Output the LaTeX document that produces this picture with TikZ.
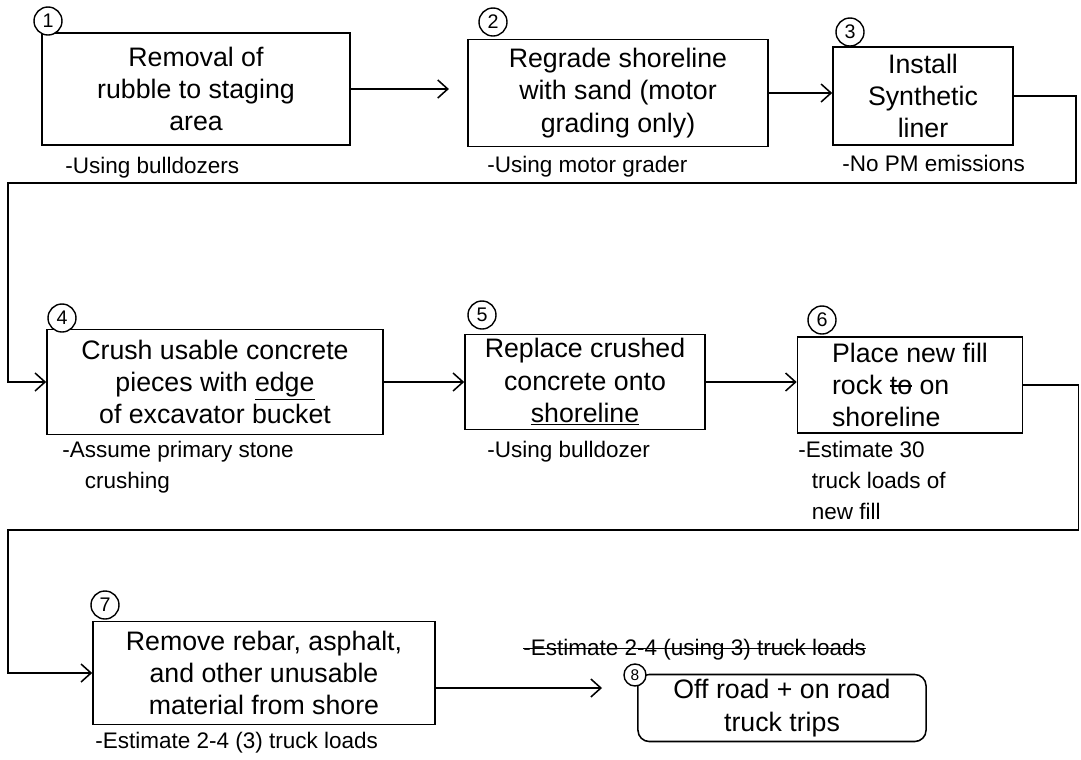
\documentclass[tikz,border=0pt]{standalone}
\usepackage{fontspec}
\setmainfont{Liberation Sans}
\usetikzlibrary{arrows.meta,calc}

% texte barre
\newcommand{\barre}[1]{\setbox0\hbox{#1}\rlap{\rule[0.3em]{\wd0}{0.9pt}}\box0\relax}

\begin{document}
\begin{tikzpicture}[x=0.025cm, y=-0.025cm,
    % Styles des etapes
    etape/.style={rectangle, draw=black, line width=1.1pt, align=center, inner sep=2pt,
                  font=\fontsize{19}{23}\selectfont},
    numero/.style={circle, draw=black, fill=white, line width=1pt, inner sep=0pt,
                   minimum size=0.7cm, font=\fontsize{14}{14}\selectfont},
    note/.style={anchor=west, align=left, inner sep=0pt, font=\fontsize{16}{22}\selectfont},
    % Style des fleches
    fleche/.style={-{Straight Barb[length=2.5mm, width=4.5mm]}, line width=1.1pt},
]
\useasboundingbox (0,0) rectangle (1081,759);

% ==========================================
% RANGEE 1
% ==========================================
\node[etape, minimum width=7.7cm, minimum height=2.8cm] (b1) at (196,89)
    {Removal of\\rubble to staging\\area};
\node[etape, minimum width=7.5cm, minimum height=2.675cm] (b2) at (618,93)
    {Regrade shoreline\\with sand (motor\\grading only)};
\node[etape, minimum width=4.5cm, minimum height=2.45cm] (b3) at (923,96)
    {Install\\Synthetic\\liner};

\node[numero] (n1) at (48,21) {1};
\node[numero] (n2) at (493,22) {2};
\node[numero] (n3) at (850,32) {3};

\node[note] (c1) at (65,168) {-Using bulldozers};
\node[note] (c2) at (487,167) {-Using motor grader};
\node[note] (c3) at (842,163) {-No PM emissions};

\draw[fleche, shorten >=13pt] (b1.east) -- (b1.east -| b2.west);
\draw[fleche] (b2.east) -- (b2.east -| b3.west);

% ==========================================
% RANGEE 2
% ==========================================
\node[etape, minimum width=8.4cm, minimum height=2.625cm] (b4) at (215,382)
    {Crush usable concrete\\pieces with \underline{edge}\\of excavator bucket};
\node[etape, minimum width=6cm, minimum height=2.375cm] (b5) at (585,382)
    {Replace crushed\\concrete onto\\\underline{shoreline}};
\node[etape, align=left, minimum width=5.625cm, minimum height=2.4cm] (b6) at (910,385)
    {Place new fill\\rock \barre{to} on\\shoreline};

\node[numero] (n4) at (62,318) {4};
\node[numero] (n5) at (482,315) {5};
\node[numero] (n6) at (822,320) {6};

\node[note, anchor=north west] (c4) at (62,441) {-Assume primary stone\\\hspace{1em}crushing};
\node[note] (c5) at (487,452) {-Using bulldozer};
\node[note, anchor=north west] (c6) at (798,441) {-Estimate 30\\\hspace{0.6em}truck loads of\\\hspace{0.6em}new fill};

\coordinate (coude1) at (8,183);
\draw[fleche] (b3.east) -- ++(62,0) |- (coude1) |- (b4.west);
\draw[fleche] (b4.east) -- (b5.west);
\draw[fleche] (b5.east) -- (b5.east -| b6.west);

% ==========================================
% RANGEE 3
% ==========================================
\node[etape, minimum width=8.55cm, minimum height=2.575cm] (b7) at (264,673)
    {Remove rebar, asphalt,\\and other unusable\\material from shore};
\node[etape, rounded corners=8pt, minimum width=7.2cm, minimum height=1.675cm] (b8) at (782,708)
    {Off road + on road\\truck trips};

\node[numero] (n7) at (105,605) {7};
\node[numero, minimum size=0.55cm, font=\fontsize{11}{11}\selectfont] (n8) at (635,675) {8};

\node[note] (c7) at (95,743) {-Estimate 2-4 (3) truck loads};
\node[note] (c8) at (523,650) {\barre{-Estimate 2-4 (using 3) truck loads}};

\coordinate (coude2) at (8,530);
\draw[fleche] (b6.east) -- ++(55,0) |- (coude2) |- (b7.west);
\draw[fleche, shorten >=25pt] ($(b7.east)+(0,15)$) -- ($(b7.east -| b8.west)+(0,15)$);

\end{tikzpicture}
\end{document}
